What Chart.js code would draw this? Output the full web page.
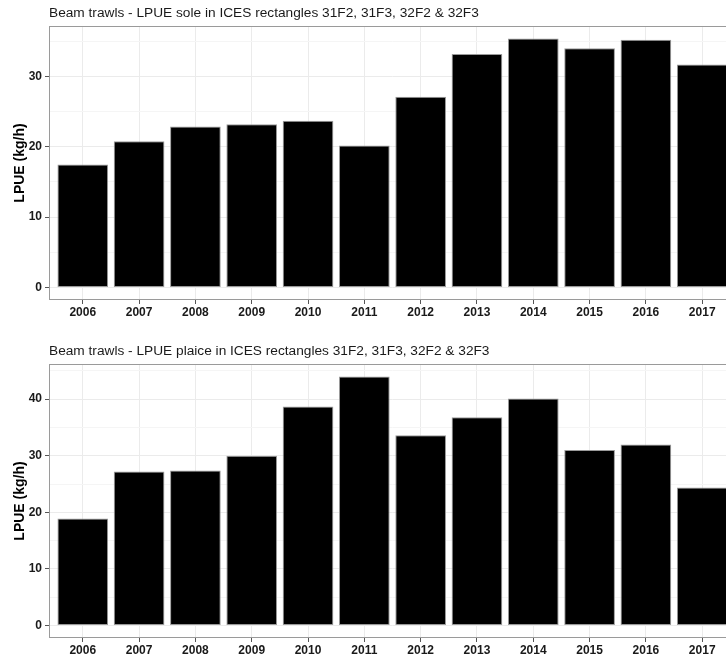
<html>
<head>
<script src="https://cdn.jsdelivr.net/npm/chart.js@4/dist/chart.umd.min.js"></script>
<style>
  body { margin: 0; background: #fff; overflow: hidden; width: 726px; height: 657px; position: relative; }
  .panel { position: absolute; left: 0; width: 726px; height: 320px; overflow: hidden; }
</style>
</head>
<body>
<div class="panel" style="top:0px"><canvas id="soleChart" width="740" height="320"></canvas></div>
<div class="panel" style="top:338px"><canvas id="plaiceChart" width="740" height="320"></canvas></div>
<script>
    var years = [2006, 2007, 2008, 2009, 2010, 2011, 2012, 2013, 2014, 2015, 2016, 2017];
    var soleLpue = [17.5, 20.8, 22.9, 23.2, 23.7, 20.2, 27.1, 33.2, 35.4, 34.0, 35.2, 31.7];
    var plaiceLpue = [18.9, 27.2, 27.4, 30.0, 38.7, 44.0, 33.6, 36.8, 40.1, 31.0, 32.0, 24.4];
    var soleTitle = "Beam trawls - LPUE sole in ICES rectangles 31F2, 31F3, 32F2 & 32F3";
    var plaiceTitle = "Beam trawls - LPUE plaice in ICES rectangles 31F2, 31F3, 32F2 & 32F3";
    var yTitle = "LPUE (kg/h)";

    // title on the left edge of the panel, like ggplot
    var panelTitle = {
        id: "panelTitle",
        afterDraw: function (chart, args, opts) {
            var ctx = chart.ctx;
            ctx.save();
            ctx.font = "13.7px 'Liberation Sans', Arial, sans-serif";
            ctx.fillStyle = "#1a1a1a";
            ctx.textBaseline = "middle";
            ctx.textAlign = "left";
            ctx.fillText(opts.text, chart.chartArea.left, chart.chartArea.top - 13);
            ctx.restore();
        }
    };

    // grey panel border all round
    var panelBorder = {
        id: "panelBorder",
        afterDatasetsDraw: function (chart) {
            var a = chart.chartArea;
            var ctx = chart.ctx;
            ctx.save();
            ctx.strokeStyle = "#9a9a9a";
            ctx.lineWidth = 1;
            ctx.strokeRect(a.left + 0.5, a.top + 0.5, a.right - a.left - 1, a.bottom - a.top - 1);
            ctx.restore();
        }
    };

    function makeChart(id, values, title) {
        var top = Math.max.apply(null, values);
        var points = years.map(function (y, i) { return { x: y, y: values[i] }; });

        return new Chart(id, {
            type: "bar",
            data: {
                datasets: [{
                    data: points,
                    backgroundColor: "#000000",
                    borderColor: "#9a9a9a",
                    borderWidth: 1,
                    borderSkipped: false,
                    barPercentage: 0.9,
                    categoryPercentage: 1.0
                }]
            },
            options: {
                responsive: false,
                animation: false,
                devicePixelRatio: 1,
                layout: { padding: { top: 26, right: 4, left: 0, bottom: 0 } },
                plugins: {
                    legend: { display: false },
                    tooltip: { enabled: false },
                    panelTitle: { text: title }
                },
                scales: {
                    x: {
                        type: "linear",
                        offset: false,
                        min: years[0] - 0.6,
                        max: years[years.length - 1] + 0.6,
                        afterBuildTicks: function (scale) {
                            scale.ticks = years.map(function (y) { return { value: y }; });
                        },
                        afterFit: function (scale) { scale.height = 20; },
                        ticks: {
                            autoSkip: false,
                            maxRotation: 0,
                            padding: 1,
                            color: "#1a1a1a",
                            font: { family: "'Liberation Sans', Arial, sans-serif", size: 12, weight: "bold" },
                            callback: function (v) { return String(v); }
                        },
                        grid: {
                            offset: false,
                            color: "#ebebeb",
                            tickColor: "#555555",
                            tickLength: 4
                        },
                        border: { display: false }
                    },
                    y: {
                        min: -0.05 * top,
                        max: 1.05 * top,
                        afterBuildTicks: function (scale) {
                            var t = [];
                            for (var v = 0; v <= scale.max; v += 5) t.push({ value: v });
                            scale.ticks = t;
                        },
                        afterFit: function (scale) { scale.width = 49; },
                        ticks: {
                            padding: 3,
                            color: "#1a1a1a",
                            font: { family: "'Liberation Sans', Arial, sans-serif", size: 12, weight: "bold" },
                            callback: function (v) { return v % 10 === 0 ? String(v) : ""; }
                        },
                        grid: {
                            color: function (c) { return c.tick && c.tick.value % 10 === 0 ? "#ebebeb" : "#f5f5f5"; },
                            tickColor: function (c) { return c.tick && c.tick.value % 10 === 0 ? "#555555" : "rgba(0,0,0,0)"; },
                            tickLength: 4
                        },
                        border: { display: false },
                        title: {
                            display: true,
                            text: yTitle,
                            color: "#000000",
                            padding: { top: 12, bottom: 0 },
                            font: { family: "'Liberation Sans', Arial, sans-serif", size: 14, weight: "bold" }
                        }
                    }
                }
            },
            plugins: [panelTitle, panelBorder]
        });
    }

    makeChart("soleChart", soleLpue, soleTitle);
    makeChart("plaiceChart", plaiceLpue, plaiceTitle);
</script>
</body>
</html>
